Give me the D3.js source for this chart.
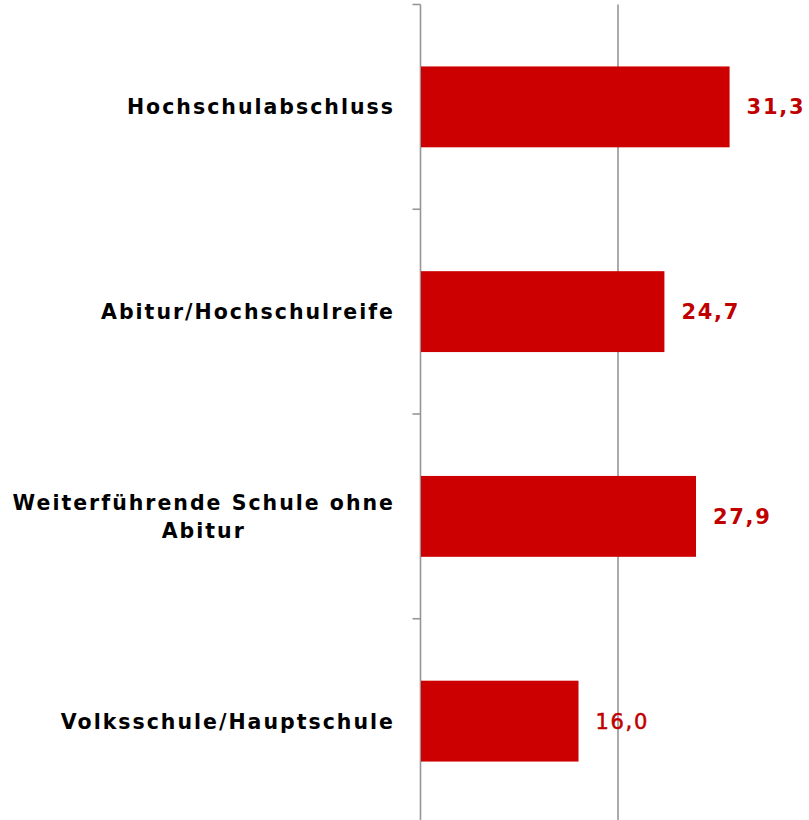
<!DOCTYPE html>
<html>
<head>
<meta charset="utf-8">
<script src="https://cdn.jsdelivr.net/npm/d3@7"></script>
<style>
  body { margin: 0; background: #fff; }
  svg { display: block; }
</style>
</head>
<body>
<div id="chart"></div>
<script>
// data
var categories = ['Hochschulabschluss', 'Abitur/Hochschulreife', 'Weiterführende Schule ohne Abitur', 'Volksschule/Hauptschule'];
var labelLines = [['Hochschulabschluss'], ['Abitur/Hochschulreife'], ['Weiterführende Schule ohne', 'Abitur'], ['Volksschule/Hauptschule']];
var values = [31.3, 24.7, 27.9, 16.0];
var gridTicks = [20];

var width = 809, height = 820;
var axisX = 420.5;

var x = d3.scaleLinear()
    .domain([0, 40])
    .range([axisX, axisX + 395]);

var y = d3.scaleBand()
    .domain(categories)
    .range([4.5, 823.5])
    .paddingInner(0.605)
    .paddingOuter(0.3025);

var svg = d3.select('#chart')
    .append('svg')
    .attr('width', width)
    .attr('height', height);

// grid line at 20
svg.selectAll('.grid')
    .data(gridTicks).enter()
    .append('line')
    .attr('class', 'grid')
    .attr('x1', d => x(d))
    .attr('x2', d => x(d))
    .attr('y1', 4.5)
    .attr('y2', height)
    .attr('stroke', '#969696')
    .attr('stroke-width', 1.6);

// category axis, ticks between the bands
var step = y.step();
var tickYs = categories.map(c => y(c) - (step - y.bandwidth()) / 2);
tickYs.push(tickYs[tickYs.length - 1] + step);

svg.append('line')
    .attr('x1', axisX).attr('x2', axisX)
    .attr('y1', 4.5).attr('y2', height)
    .attr('stroke', '#969696')
    .attr('stroke-width', 1.6);

svg.selectAll('.tick')
    .data(tickYs).enter()
    .append('line')
    .attr('class', 'tick')
    .attr('x1', axisX - 8).attr('x2', axisX)
    .attr('y1', d => d).attr('y2', d => d)
    .attr('stroke', '#969696')
    .attr('stroke-width', 1.6);

// bars
svg.selectAll('.bar')
    .data(values).enter()
    .append('rect')
    .attr('class', 'bar')
    .attr('x', x(0) + 0.5)
    .attr('y', (d, i) => y(categories[i]))
    .attr('width', d => x(d) - x(0) - 0.5)
    .attr('height', y.bandwidth())
    .attr('fill', '#cc0000');

// value labels
svg.selectAll('.val')
    .data(values).enter()
    .append('text')
    .attr('class', 'val')
    .attr('x', d => x(d) + 17)
    .attr('y', (d, i) => y(categories[i]) + y.bandwidth() / 2)
    .attr('dy', '0.36em')
    .attr('fill', '#c00000')
    .attr('font-family', 'DejaVu Sans, Verdana, sans-serif')
    .attr('font-size', 21)
    .attr('font-weight', (d, i) => i === 3 ? 'normal' : 'bold')
    .attr('stroke', (d, i) => i === 3 ? '#c00000' : 'none')
    .attr('stroke-width', 0.5)
    .attr('letter-spacing', 1.7)
    .text(d => d3.format('.1f')(d).replace('.', ','));

// category labels
var labelRight = 393;
var lineH = 28;
var spacing = 2;
labelLines.forEach(function(lines, i) {
    var cy = y(categories[i]) + y.bandwidth() / 2;
    var g = svg.append('g');
    var texts = lines.map(function(l, j) {
        return g.append('text')
            .attr('y', cy + (j - (lines.length - 1) / 2) * lineH)
            .attr('dy', '0.36em')
            .attr('fill', '#000')
            .attr('font-family', 'DejaVu Sans, Verdana, sans-serif')
            .attr('font-size', 20.5)
            .attr('font-weight', 'bold')
            .attr('letter-spacing', spacing)
            .text(l);
    });
    // letter-spacing adds trailing space after the last glyph
    var maxW = d3.max(texts, t => t.node().getComputedTextLength() - spacing);
    texts.forEach(function(t) {
        var w = t.node().getComputedTextLength() - spacing;
        t.attr('x', labelRight - maxW / 2 - w / 2);
    });
});
</script>
</body>
</html>
